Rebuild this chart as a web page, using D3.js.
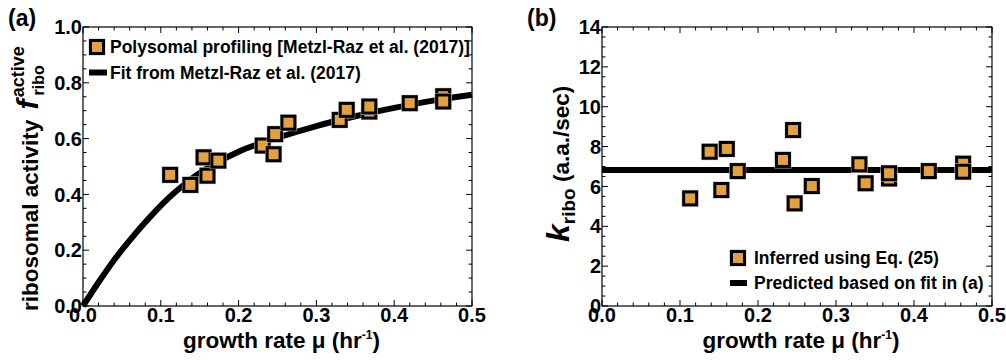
<!DOCTYPE html>
<html>
<head>
<meta charset="utf-8">
<script src="https://cdn.jsdelivr.net/npm/d3@7"></script>
<style>
  body { margin: 0; background: #fff; }
  text { font-family: "Liberation Sans", Arial, Helvetica, sans-serif; font-weight: bold; fill: #000; }
</style>
</head>
<body>
<div id="chart"></div>
<script>
// panel (a) data: polysomal profiling
const muA = [0.112, 0.138, 0.155, 0.160, 0.174, 0.231, 0.245, 0.247, 0.264, 0.330, 0.339, 0.368, 0.368, 0.420, 0.463, 0.463];
const fA  = [0.470, 0.434, 0.533, 0.467, 0.521, 0.575, 0.544, 0.616, 0.657, 0.667, 0.703, 0.697, 0.715, 0.727, 0.752, 0.733];

// fit curve
const fitMu = [0, 0.02, 0.04, 0.06, 0.08, 0.10, 0.12, 0.15, 0.20, 0.25, 0.30, 0.35, 0.40, 0.45, 0.50];
const fitF  = [0, 0.085, 0.165, 0.235, 0.300, 0.360, 0.412, 0.477, 0.553, 0.603, 0.645, 0.680, 0.710, 0.736, 0.757];

// panel (b) data: inferred k_ribo
const muB = [0.113, 0.138, 0.153, 0.160, 0.174, 0.232, 0.245, 0.247, 0.269, 0.330, 0.338, 0.368, 0.368, 0.419, 0.463, 0.463];
const kB  = [5.40, 7.74, 5.82, 7.88, 6.77, 7.33, 8.83, 5.15, 6.02, 7.11, 6.16, 6.40, 6.66, 6.77, 7.14, 6.74];

// predicted line
const predMu = [0, 0.5];
const predK  = [6.82, 6.82];

const xTicks = [0, 0.1, 0.2, 0.3, 0.4, 0.5];
const yTicksA = [0, 0.2, 0.4, 0.6, 0.8, 1.0];
const yTicksB = [0, 2, 4, 6, 8, 10, 12, 14];

const fillColor = "#e2a03e";

const svg = d3.select("#chart")
    .append("svg")
    .attr("width", 1006)
    .attr("height", 360);

function framePanel(x, y, yTicks, xMinor, yMinor, yFmt, xFmt) {
    const g = svg.append("g");
    const [x0, x1] = x.range();
    const [y0, y1] = y.range(); // y0 bottom, y1 top

    g.append("rect")
        .attr("x", x0).attr("y", y1)
        .attr("width", x1 - x0).attr("height", y0 - y1)
        .attr("fill", "none").attr("stroke", "#000").attr("stroke-width", 1.2);

    // ticks inward on all four sides
    const isMajor = (v, ticks) => ticks.some(t => Math.abs(t - v) < 1e-9);
    xMinor.forEach(v => {
        const len = isMajor(v, xTicks) ? 6 : 3.5;
        g.append("line").attr("x1", x(v)).attr("x2", x(v)).attr("y1", y0).attr("y2", y0 - len).attr("stroke", "#000");
        g.append("line").attr("x1", x(v)).attr("x2", x(v)).attr("y1", y1).attr("y2", y1 + len).attr("stroke", "#000");
    });
    yMinor.forEach(v => {
        const len = isMajor(v, yTicks) ? 6 : 3.5;
        g.append("line").attr("y1", y(v)).attr("y2", y(v)).attr("x1", x0).attr("x2", x0 + len).attr("stroke", "#000");
        g.append("line").attr("y1", y(v)).attr("y2", y(v)).attr("x1", x1).attr("x2", x1 - len).attr("stroke", "#000");
    });

    g.selectAll(".xl").data(xTicks).enter().append("text")
        .attr("x", d => x(d)).attr("y", 322)
        .attr("text-anchor", "middle").attr("font-size", 20)
        .text(xFmt);
    g.selectAll(".yl").data(yTicks).enter().append("text")
        .attr("x", x0 - 1).attr("y", d => y(d)).attr("dy", "0.36em")
        .attr("text-anchor", "end").attr("font-size", 20)
        .text(yFmt);

    const xt = g.append("text")
        .attr("x", (x0 + x1) / 2 + 4).attr("y", 348)
        .attr("text-anchor", "middle").attr("font-size", 22.5);
    xt.append("tspan").text("growth rate μ (hr");
    xt.append("tspan").attr("font-size", 12).attr("dy", -9).text("-1");
    xt.append("tspan").attr("dy", 9).text(")");
    return g;
}

function square(g, cx, cy) {
    g.append("rect")
        .attr("x", cx - 8).attr("y", cy - 8).attr("width", 16).attr("height", 16)
        .attr("fill", "none").attr("stroke", "#c8c8c8").attr("stroke-width", 1);
    g.append("rect")
        .attr("x", cx - 6.5).attr("y", cy - 6.5).attr("width", 13).attr("height", 13)
        .attr("fill", fillColor).attr("stroke", "#000").attr("stroke-width", 3);
}

const xMinorTicks = d3.range(0, 0.5001, 0.02);

// ---------- panel (a) ----------
const xA = d3.scaleLinear().domain([0, 0.5]).range([83, 472]);
const yA = d3.scaleLinear().domain([0, 1]).range([306, 27]);
const gA = framePanel(xA, yA, yTicksA, xMinorTicks, d3.range(0, 1.0001, 0.05), d => d.toFixed(1), d => d.toFixed(1));

const fitLine = d3.line()
    .x((d, i) => xA(fitMu[i]))
    .y((d, i) => yA(fitF[i]))
    .curve(d3.curveCatmullRom);
gA.append("path")
    .datum(fitMu)
    .attr("fill", "none").attr("stroke", "#000").attr("stroke-width", 6)
    .attr("d", fitLine);

muA.forEach((m, i) => square(gA, xA(m), yA(fA[i])));

// legend (a)
square(gA, 97, 47);
gA.append("text").attr("x", 110).attr("y", 53).attr("font-size", 17.5)
    .text("Polysomal profiling [Metzl-Raz et al. (2017)]");
gA.append("line").attr("x1", 89).attr("x2", 107).attr("y1", 72.5).attr("y2", 72.5)
    .attr("stroke", "#000").attr("stroke-width", 6);
gA.append("text").attr("x", 110).attr("y", 79).attr("font-size", 17.5)
    .text("Fit from Metzl-Raz et al. (2017)");

// y title (a)
const ytA = gA.append("text")
    .attr("transform", "translate(38,311) rotate(-90)")
    .attr("font-size", 22.5);
ytA.append("tspan").text("ribosomal activity ");
ytA.append("tspan").attr("font-style", "italic").attr("font-size", 30).attr("dx", 4).text("f");
ytA.append("tspan").attr("font-size", 16).attr("dy", 6).attr("dx", 4).text("ribo");
ytA.append("tspan").attr("font-size", 18).attr("dy", -20).attr("dx", -32).text("active");

gA.append("text").attr("x", 8).attr("y", 26).attr("font-size", 23).text("(a)");

// ---------- panel (b) ----------
const xB = d3.scaleLinear().domain([0, 0.5]).range([602, 992]);
const yB = d3.scaleLinear().domain([0, 14]).range([306, 27]);
const gB = framePanel(xB, yB, yTicksB, xMinorTicks, d3.range(0, 14.001, 0.5), d => d, d => d.toFixed(1));

const predLine = d3.line()
    .x((d, i) => xB(predMu[i]))
    .y((d, i) => yB(predK[i]));
gB.append("path")
    .datum(predMu)
    .attr("fill", "none").attr("stroke", "#000").attr("stroke-width", 6)
    .attr("d", predLine);

muB.forEach((m, i) => square(gB, xB(m), yB(kB[i])));

// legend (b)
square(gB, 738, 258);
gB.append("text").attr("x", 754).attr("y", 264).attr("font-size", 17.5)
    .text("Inferred using Eq. (25)");
gB.append("line").attr("x1", 730).attr("x2", 747).attr("y1", 283).attr("y2", 283)
    .attr("stroke", "#000").attr("stroke-width", 6);
gB.append("text").attr("x", 754).attr("y", 289).attr("font-size", 17.5)
    .text("Predicted based on fit in (a)");

// y title (b)
const ytB = gB.append("text")
    .attr("transform", "translate(569,242) rotate(-90)")
    .attr("font-size", 22.5);
ytB.append("tspan").attr("font-style", "italic").attr("font-size", 32).text("k");
ytB.append("tspan").attr("font-size", 19).attr("dy", 6).text("ribo");
ytB.append("tspan").attr("dy", -6).text(" (a.a./sec)");

gB.append("text").attr("x", 527).attr("y", 26).attr("font-size", 23).text("(b)");
</script>
</body>
</html>
